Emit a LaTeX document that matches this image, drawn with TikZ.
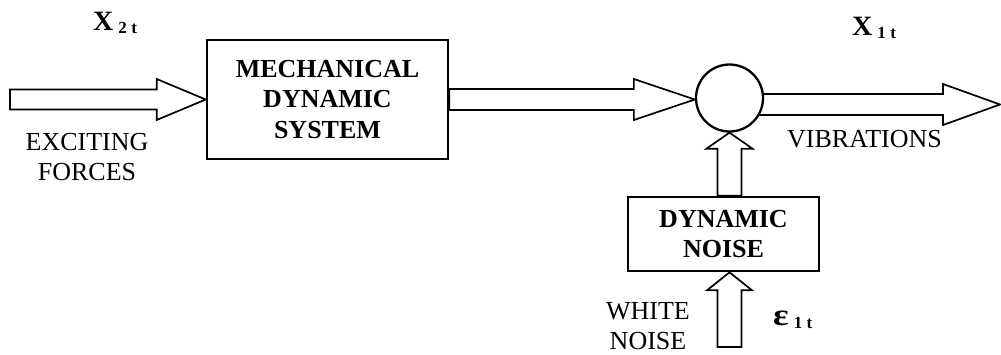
\documentclass[tikz,border=0pt]{standalone}
\usepackage{fontspec}
\setmainfont{Liberation Serif}
\usetikzlibrary{calc,backgrounds}

\tikzset{
  block/.style={draw,line width=2.6pt,fill=white,align=center,inner sep=0pt,
    font=\fontsize{26}{30.5}\selectfont\bfseries},
  junction/.style={draw,circle,line width=2.3pt,fill=white,minimum size=67pt,inner sep=0pt},
  fatline/.style={draw,line width=1.7pt,fill=white,line join=miter},
  caption/.style={align=center,inner sep=0pt,font=\fontsize{26}{30}\selectfont},
  symbol/.style={anchor=base west,inner sep=0pt,font=\fontsize{28}{30}\selectfont}
}

% hollow block arrow: start, tip, shaft half width, head half width, head length
\newcommand{\fatarrow}[5]{%
  \coordinate (fa-b) at ($(#2)!#5!(#1)$);
  \draw[fatline] ($(#1)!#3!90:(#2)$) -- ($(fa-b)!#3!90:(#2)$) -- ($(fa-b)!#4!90:(#2)$) -- (#2)
    -- ($(fa-b)!#4!-90:(#2)$) -- ($(fa-b)!#3!-90:(#2)$) -- ($(#1)!#3!-90:(#2)$) -- cycle;}
% bold symbol with a lowered index
\newcommand{\sublabel}[3]{\textbf{#1}\hspace{5pt}\raisebox{-3.5pt}{\fontsize{17}{17}\selectfont\bfseries #2\hspace{4.5pt}#3}}

\begin{document}
\begin{tikzpicture}[x=1pt,y=-1pt]
\useasboundingbox (0,0) rectangle (1001,354);

% blocks
\node[block,minimum width=241pt,minimum height=119pt] (mds) at (327.5,99.5) {MECHANICAL\\DYNAMIC\\SYSTEM};
\node[block,minimum width=191pt,minimum height=74pt] (dn) at (723.5,234) {DYNAMIC\\NOISE};
\node[junction] (sum) at (729.5,98) {};

% free ends and helper points of the arrows
\coordinate (exc) at (10,99.5);
\coordinate (vib) at (1000,104.5);
\coordinate (wn) at (729.5,347);
\coordinate (midtip) at (sum.west |- mds.east);
\coordinate (outstart) at (sum.center |- vib);
\coordinate (upstart) at (sum.south |- dn.north);
\coordinate (wntip) at (wn |- dn.south);

% arrows, behind the blocks
\begin{scope}[on background layer]
\fatarrow{exc}{mds.west}{10pt}{20.5pt}{49pt}
\fatarrow{mds.east}{midtip}{10.5pt}{20.5pt}{61pt}
\fatarrow{outstart}{vib}{10.5pt}{20.5pt}{57pt}
\fatarrow{upstart}{sum.south}{12pt}{23pt}{16pt}
\fatarrow{wn}{wntip}{12pt}{22.5pt}{18pt}
\end{scope}

% signal labels
\node[symbol] (x2) at (93,30) {\sublabel{X}{2}{t}};
\node[symbol] (x1) at (852,35) {\sublabel{X}{1}{t}};
\node[symbol] (eps) at (773,325) {\sublabel{\scalebox{1.3}[1.1]{ε}}{1}{t}};
\node[caption,anchor=north] (exclabel) at (87,133) {EXCITING\\FORCES};
\node[caption,anchor=base] (viblabel) at (864.5,147) {VIBRATIONS};
\node[caption,anchor=north] (wnlabel) at (648,302) {WHITE\\NOISE};

\end{tikzpicture}
\end{document}
